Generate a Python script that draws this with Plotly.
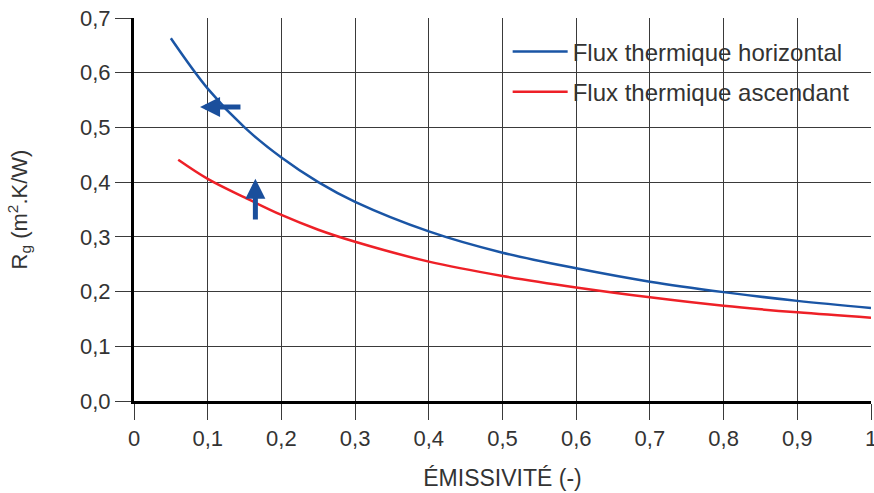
import plotly.graph_objects as go

# Data
emissivite_h = [0.05, 0.1, 0.15, 0.2, 0.25, 0.3, 0.4, 0.5, 0.6, 0.7, 0.8, 0.9, 1.0]
rg_horizontal = [0.663, 0.571, 0.500, 0.445, 0.400, 0.364, 0.310, 0.271, 0.2425, 0.218, 0.199, 0.183, 0.170]

emissivite_a = [0.06, 0.1, 0.15, 0.2, 0.25, 0.3, 0.4, 0.5, 0.6, 0.7, 0.8, 0.9, 1.0]
rg_ascendant = [0.441, 0.406, 0.372, 0.340, 0.313, 0.291, 0.2547, 0.2285, 0.2075, 0.1895, 0.174, 0.162, 0.152]

series_names = ["Flux thermique horizontal", "Flux thermique ascendant"]

x_tickvals = [0, 0.1, 0.2, 0.3, 0.4, 0.5, 0.6, 0.7, 0.8, 0.9, 1]
x_ticktext = ["0", "0,1", "0,2", "0,3", "0,4", "0,5", "0,6", "0,7", "0,8", "0,9", "1"]
y_tickvals = [0, 0.1, 0.2, 0.3, 0.4, 0.5, 0.6, 0.7]
y_ticktext = ["0,0", "0,1", "0,2", "0,3", "0,4", "0,5", "0,6", "0,7"]

# Arrow annotations (tip, tail) in data coordinates
arrow_left = dict(tip=(0.0896, 0.5375), tail=(0.1465, 0.5375))
arrow_up = dict(tip=(0.1647, 0.406), tail=(0.1647, 0.329))

BLUE = "#1a55a5"
RED = "#ee2027"
TXT = "#333333"
FONT = "Liberation Sans"

fig = go.Figure()
fig.add_trace(go.Scatter(x=emissivite_h, y=rg_horizontal, mode="lines", name=series_names[0],
                         line=dict(color=BLUE, width=2.5, shape="spline"), legendgroup="a"))
fig.add_trace(go.Scatter(x=emissivite_a, y=rg_ascendant, mode="lines", name=series_names[1],
                         line=dict(color=RED, width=2.5, shape="spline"), legendgroup="b"))

for arr in (arrow_left, arrow_up):
    fig.add_annotation(x=arr["tip"][0], y=arr["tip"][1], ax=arr["tail"][0], ay=arr["tail"][1],
                       xref="x", yref="y", axref="x", ayref="y", text="", showarrow=True,
                       arrowhead=2, arrowsize=0.8, arrowwidth=5, arrowcolor="#1a4f9c")

fig.update_layout(
    width=874, height=493,
    margin=dict(l=134, r=3, t=18, b=92),
    paper_bgcolor="white", plot_bgcolor="white",
    font=dict(family=FONT, size=22, color=TXT),
    showlegend=True,
    legend=dict(x=0.507, y=0.970, xanchor="left", yanchor="top", bgcolor="rgba(0,0,0,0)",
                font=dict(family=FONT, size=24, color=TXT), itemwidth=55, tracegroupgap=6),
    xaxis=dict(range=[0, 1], tickvals=x_tickvals, ticktext=x_ticktext,
               showgrid=True, gridcolor="#3a3a3a", gridwidth=1,
               ticks="outside", ticklen=16, tickcolor="#3a3a3a", tickwidth=1,
               showline=True, linecolor="black", linewidth=3, zeroline=False,
               ticklabeloverflow="allow", automargin=False,
               title=dict(text="ÉMISSIVITÉ (-)", standoff=20, font=dict(size=23, color=TXT)),
               tickfont=dict(size=22, color=TXT)),
    yaxis=dict(range=[0, 0.7], tickvals=y_tickvals, ticktext=y_ticktext,
               showgrid=True, gridcolor="#3a3a3a", gridwidth=1,
               ticks="outside", ticklen=16, tickcolor="#3a3a3a", tickwidth=1,
               showline=True, linecolor="black", linewidth=3, zeroline=False,
               automargin=False,
               title=dict(text="R<sub>g</sub> (m<sup>2</sup>.K/W)", standoff=47, font=dict(size=22, color=TXT)),
               tickfont=dict(size=22, color=TXT)),
)

fig.write_html("out.html", config={"displayModeBar": False},
               post_script="document.body.style.margin='0';document.body.style.overflow='hidden';")
